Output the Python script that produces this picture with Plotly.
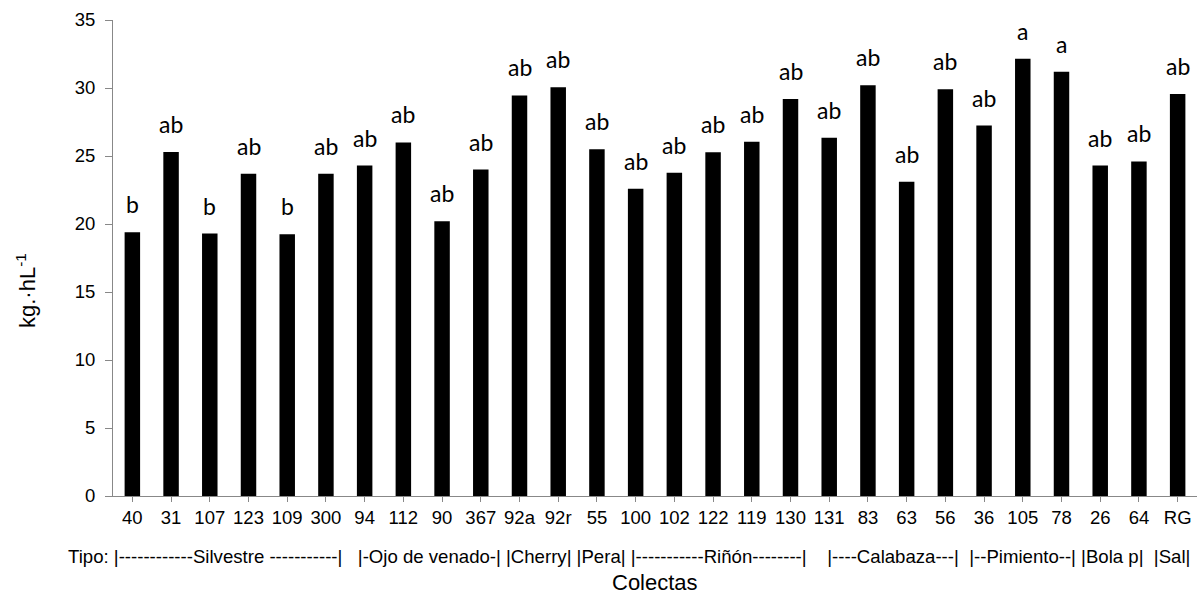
import plotly.graph_objects as go

colectas = ["40", "31", "107", "123", "109", "300", "94", "112", "90", "367", "92a", "92r", "55", "100",
            "102", "122", "119", "130", "131", "83", "63", "56", "36", "105", "78", "26", "64", "RG"]
valores = [19.4, 25.3, 19.3, 23.7, 19.25, 23.7, 24.3, 26.0, 20.2, 24.0, 29.45, 30.05, 25.5, 22.6,
           23.76, 25.27, 26.05, 29.2, 26.34, 30.2, 23.1, 29.9, 27.24, 32.15, 31.2, 24.3, 24.6, 29.56]
letras = ["b", "ab", "b", "ab", "b", "ab", "ab", "ab", "ab", "ab", "ab", "ab", "ab", "ab",
          "ab", "ab", "ab", "ab", "ab", "ab", "ab", "ab", "ab", "a", "a", "ab", "ab", "ab"]
tipo_texto = ("Tipo: |------------Silvestre -----------|   |-Ojo de venado-| |Cherry| |Pera| "
              "|-----------Riñón--------|    |----Calabaza---|  |--Pimiento--| |Bola p|  |Sal|")
y_titulo = "kg.·hL<sup>-1</sup>"
x_titulo = "Colectas"

AX_FONT = "Liberation Sans, Arial, sans-serif"
GRAY = "#888888"

fig = go.Figure()
fig.add_trace(go.Bar(x=colectas, y=valores, marker=dict(color="black", line=dict(width=0)),
                     width=0.4, showlegend=False, hoverinfo="x+y"))

for i, (v, l) in enumerate(zip(valores, letras)):
    fig.add_annotation(x=i, y=v, text=l, showarrow=False, xanchor="center", yanchor="bottom",
                       yshift=12, font=dict(family="Lato, Carlito, Calibri, sans-serif", size=23, color="black"))

fig.add_annotation(xref="paper", yref="paper", x=(66 - 113) / 1084, y=(496 - 556) / 476,
                   xanchor="left", yanchor="middle", text=tipo_texto, showarrow=False,
                   font=dict(family=AX_FONT, size=18.6, color="black"))
fig.add_annotation(xref="paper", yref="paper", x=0.5, y=(496 - 582) / 476,
                   xanchor="center", yanchor="middle", text=x_titulo, showarrow=False,
                   font=dict(family=AX_FONT, size=22, color="black"))
fig.add_annotation(xref="paper", yref="paper", x=(26 - 113) / 1084, y=(496 - 291) / 476,
                   xanchor="center", yanchor="middle", text=y_titulo, showarrow=False, textangle=-90,
                   font=dict(family=AX_FONT, size=22, color="black"))

fig.update_layout(
    width=1199, height=596,
    margin=dict(l=113, r=2, t=20, b=100),
    paper_bgcolor="white", plot_bgcolor="white",
    bargap=0.6,
    xaxis=dict(type="category", range=[-0.5, len(colectas) - 0.5], showline=True, linecolor=GRAY,
               linewidth=1, ticks="outside", ticklen=5, tickcolor=GRAY, showgrid=False, zeroline=False,
               tickfont=dict(family=AX_FONT, size=18.5, color="black"), tickangle=0),
    yaxis=dict(range=[0, 35], dtick=5, tick0=0, showline=True, linecolor=GRAY, linewidth=1,
               ticks="outside", ticklen=7, tickcolor=GRAY, showgrid=False, zeroline=False,
               tickfont=dict(family=AX_FONT, size=18.5, color="black"), ticklabelstandoff=6),
)

fig.write_html("out.html")
